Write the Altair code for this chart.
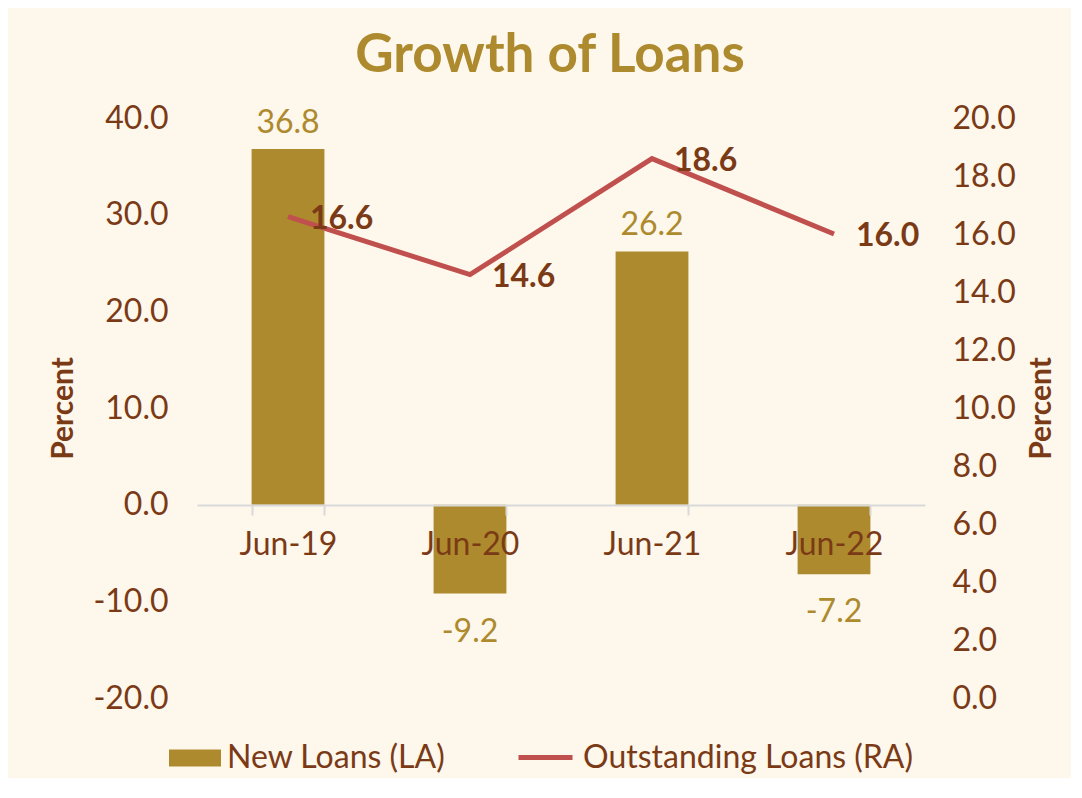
import altair as alt
import pandas as pd

categories = ["Jun-19", "Jun-20", "Jun-21", "Jun-22"]
new_loans = [36.8, -9.2, 26.2, -7.2]
outstanding = [16.6, 14.6, 18.6, 16.0]
left_ticks = [-20, -10, 0, 10, 20, 30, 40]
right_ticks = [0, 2, 4, 6, 8, 10, 12, 14, 16, 18, 20]

df = pd.DataFrame({
    "cat": categories,
    "new": new_loans,
    "out": outstanding,
    "bar_series": ["New Loans (LA)"] * 4,
    "line_series": ["Outstanding Loans (RA)"] * 4,
})

GOLD = "#AD8A2D"
RED = "#C0504D"
BROWN = "#7B3A16"
BG = "#FEF7EC"
FONT = "Lato"

HYPHEN_LABEL = "datum.value < 0 ? '-' + format(-datum.value, '.1f') : format(datum.value, '.1f')"

x_enc = alt.X(
    "cat:N", sort=categories, title=None,
    scale=alt.Scale(paddingInner=0.6, paddingOuter=0.3),
    axis=alt.Axis(
        orient="bottom", offset=-193, labelAngle=0, labelFontSize=32,
        labelColor=BROWN, labelFont=FONT, labelPadding=14,
        domainColor="#D9D9D9", domainWidth=2, tickColor="#D9D9D9",
        tickWidth=2, tickSize=10, tickBand="extent", zindex=1,
    ),
)

y_left = alt.Y(
    "new:Q", title="Percent",
    scale=alt.Scale(domain=[-20, 40], nice=False, zero=False),
    axis=alt.Axis(
        values=left_ticks, labelExpr=HYPHEN_LABEL, grid=False, domain=False, ticks=False,
        labelFontSize=32, labelColor=BROWN, labelFont=FONT, labelPadding=29,
        titleFontSize=30, titleFont=FONT, titleColor=BROWN, titleFontWeight="bold",
        titleX=-134, titleY=290, titleAngle=-90, titleAlign="center",
        titleBaseline="middle", orient="left",
    ),
)

y_right = alt.Y(
    "out:Q", title="Percent",
    scale=alt.Scale(domain=[0, 20], nice=False, zero=False),
    axis=alt.Axis(
        values=right_ticks, format=".1f", grid=False, domain=False, ticks=False,
        labelFontSize=32, labelColor=BROWN, labelFont=FONT, labelPadding=27,
        titleFontSize=30, titleFont=FONT, titleColor=BROWN, titleFontWeight="bold",
        titleX=116, titleY=290, titleAngle=-90, titleAlign="center",
        titleBaseline="middle", orient="right",
    ),
)

base_bar = alt.Chart(df).transform_calculate(
    new_label="datum.new < 0 ? '-' + format(-datum.new, '.1f') : format(datum.new, '.1f')"
).encode(x=x_enc, y=y_left)

bars = base_bar.mark_bar(color=GOLD).encode(
    fill=alt.Fill(
        "bar_series:N", title=None,
        scale=alt.Scale(domain=["New Loans (LA)"], range=[GOLD]),
        legend=alt.Legend(
            orient="none", legendX=-28, legendY=614, labelFontSize=32,
            labelColor=BROWN, labelFont=FONT, labelOffset=6, labelLimit=500,
            symbolType="M-1,-0.33H1V0.33H-1Z", symbolSize=2704,
            symbolStrokeWidth=0, symbolOpacity=1,
        ),
    )
)

pos_labels = base_bar.transform_filter("datum.new >= 0").mark_text(
    dy=-16, baseline="alphabetic", fontSize=32, font=FONT, color=GOLD
).encode(text="new_label:N")

neg_labels = base_bar.transform_filter("datum.new < 0").mark_text(
    dy=48, baseline="alphabetic", fontSize=32, font=FONT, color=GOLD
).encode(text="new_label:N")

base_line = alt.Chart(df).encode(x=x_enc, y=y_right)

line = base_line.mark_line(strokeWidth=5, color=RED).encode(
    stroke=alt.Stroke(
        "line_series:N", title=None,
        scale=alt.Scale(domain=["Outstanding Loans (RA)"], range=[RED]),
        legend=alt.Legend(
            orient="none", legendX=319, legendY=610, labelFontSize=32,
            labelColor=BROWN, labelFont=FONT, labelOffset=8, labelLimit=500,
            symbolType="stroke", symbolSize=2916, symbolStrokeWidth=5,
        ),
    )
)

line_labels = base_line.mark_text(
    align="left", baseline="middle", dx=22, dy=2, fontSize=32,
    font=FONT, fontWeight="bold", color=BROWN
).encode(text=alt.Text("out:Q", format=".1f"))

left_layer = alt.layer(bars, pos_labels, neg_labels)
right_layer = alt.layer(line, line_labels)

chart = alt.layer(left_layer, right_layer).resolve_scale(
    y="independent", fill="independent", stroke="independent"
).properties(
    width=728, height=580,
    padding={"left": 40, "top": 22, "right": 15, "bottom": 4},
    background=BG,
    title=alt.Title(
        "Growth of Loans", fontSize=53, font=FONT, fontWeight="bold",
        color=GOLD, anchor="middle", baseline="bottom", offset=-34, dx=-11,
        frame="group",
    ),
).configure_view(stroke=None)

chart.save("out.html", embed_options={"renderer": "svg", "actions": False})
